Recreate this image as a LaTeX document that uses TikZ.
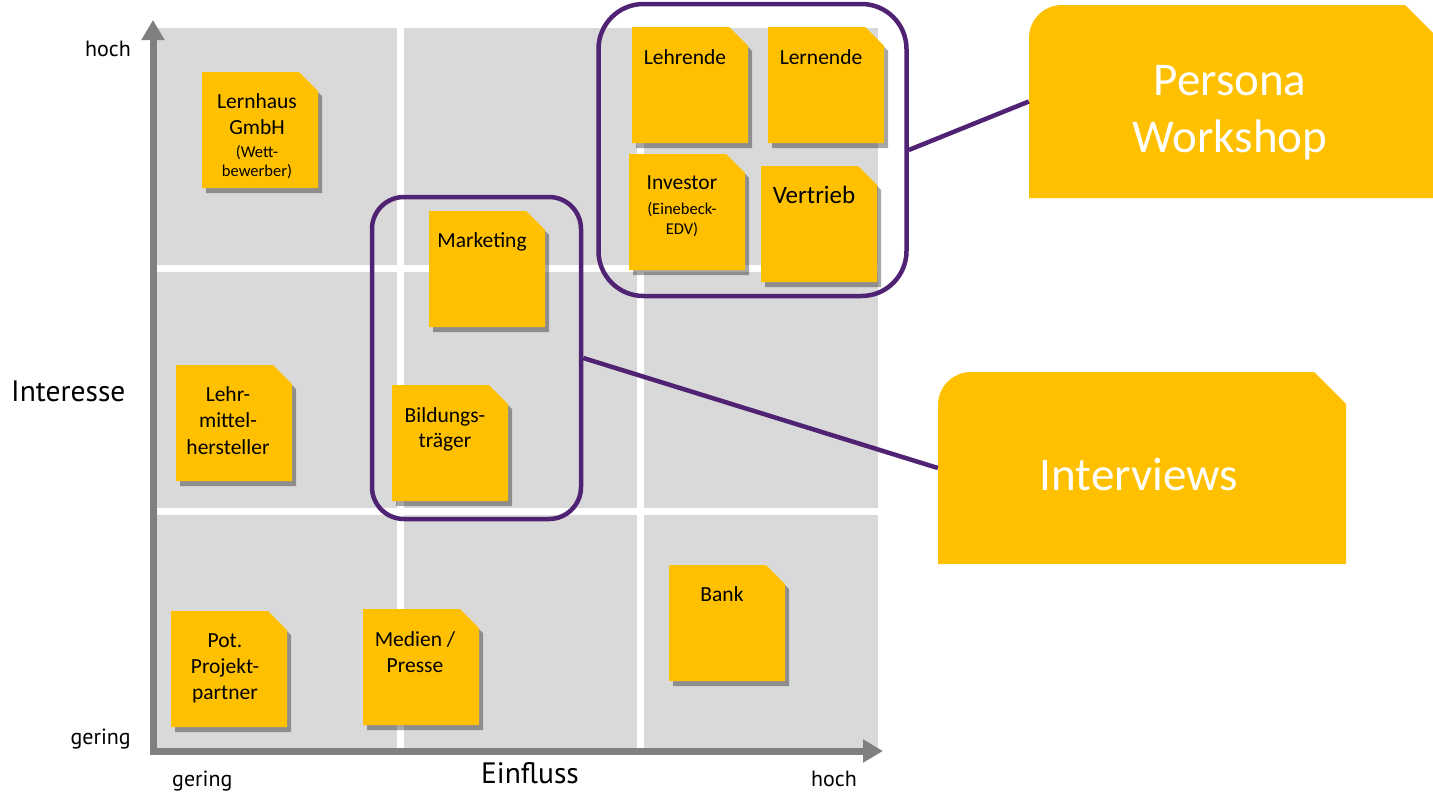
\documentclass[tikz,border=0pt]{standalone}
\usepackage{fontspec}
\setmainfont{Carlito}
\newfontfamily\axisfont{PT Sans}
\usetikzlibrary{arrows.meta,shadows}
\definecolor{yel}{HTML}{FFC000}
\definecolor{pur}{HTML}{4F2274}
\definecolor{cellgray}{HTML}{D9D9D9}
\definecolor{axisgray}{HTML}{808080}
\newcommand\stickynote[2]{%
  \fill[yel, drop shadow={shadow xshift=4pt, shadow yshift=-5pt, opacity=0.35, fill=black}]
    (#1,#2) -- ++(97,0) -- ++(19,19) -- ++(0,97) -- ++(-116,0) -- cycle;}
\begin{document}
\begin{tikzpicture}[x=1pt,y=-1pt,
  notetext/.style={font=\fontsize{21.5}{26}\selectfont, align=center, inner sep=0pt, anchor=north, text=black},
  subtext/.style={font=\fontsize{16.5}{19}\selectfont, align=center, inner sep=0pt, anchor=north, text=black},
  axislabel/.style={font=\axisfont\fontsize{22}{24}\selectfont, inner sep=0pt, text=black},
  axisarrow/.style={draw=axisgray, line width=7pt, -{Triangle[width=22pt,length=20pt]}},
  groupbox/.style={draw=pur, line width=4.5pt, fill=none, inner sep=0pt},
  link/.style={draw=pur, line width=4.5pt},
  callouttext/.style={font=\fontsize{47}{57}\selectfont, text=white, align=center, inner sep=0pt},
  calloutanchor/.style={draw=none, fill=none, inner sep=0pt}]
\path[use as bounding box] (0,0) rectangle (1433,793);
\fill[white] (0,0) rectangle (1433,793);
% grid cells
\foreach \xa/\xb in {157/397,404/637,644/878}
  \foreach \ya/\yb in {28/265,272/508,515/748}
    \fill[cellgray] (\xa,\ya) rectangle (\xb,\yb);
% axes
\coordinate (origin) at (153,754.5);
\coordinate (ytip) at (153,20);
\coordinate (xorigin) at (149.5,751);
\coordinate (xtip) at (883,751);
\draw[axisarrow] (origin) -- (ytip);
\draw[axisarrow] (xorigin) -- (xtip);
% sticky notes
\stickynote{202}{72}
\stickynote{632}{27}
\stickynote{768}{27}
\stickynote{629}{154}
\stickynote{761}{166}
\stickynote{429}{211}
\stickynote{392}{385}
\stickynote{176}{365}
\stickynote{171}{611}
\stickynote{363}{609}
\stickynote{669}{565}
\node[notetext] (lernhaus) at (257,93) {Lernhaus\\GmbH};
\node[subtext] (lernhausSub) at (257,145) {(Wett-\\bewerber)};
\node[notetext] (lehrende) at (685,49) {Lehrende};
\node[notetext] (lernende) at (821,49) {Lernende};
\node[notetext] (investor) at (682,176) {Investor};
\node[subtext, font=\fontsize{16.5}{20}\selectfont] (investorSub) at (682,202) {(Einebeck-\\EDV)};
\node[notetext, font=\fontsize{25}{28}\selectfont] (vertrieb) at (814,186) {Vertrieb};
\node[notetext] (marketing) at (482,232) {Marketing};
\node[notetext, font=\fontsize{21.5}{25}\selectfont] (bildung) at (445,407) {Bildungs-\\träger};
\node[notetext, font=\fontsize{21.5}{26.5}\selectfont] (lehrmittel) at (228,386) {Lehr-\\mittel-\\hersteller};
\node[notetext] (pot) at (225,633) {Pot.\\Projekt-\\partner};
\node[notetext] (medien) at (415,631) {Medien /\\Presse};
\node[notetext] (bank) at (722,586) {Bank};
% axis labels
\node[axislabel, anchor=base east] (hochY) at (131,56) {hoch};
\node[axislabel, anchor=base west, font=\axisfont\fontsize{29.5}{30}\selectfont] (interesse) at (11,401) {Interesse};
\node[axislabel, anchor=base east] (geringY) at (131,744) {gering};
\node[axislabel, anchor=base west] (geringX) at (172,786) {gering};
\node[axislabel, anchor=base, font=\axisfont\fontsize{29.5}{30}\selectfont] (einfluss) at (530,783) {Einfluss};
\node[axislabel, anchor=base east] (hochX) at (857,786) {hoch};
% group boxes
\node[groupbox, rounded corners=45pt, minimum width=308pt, minimum height=292pt] (grpTop) at (752.5,150) {};
\node[groupbox, rounded corners=32pt, minimum width=209pt, minimum height=322pt] (grpMid) at (476.5,358) {};
% callouts
\fill[yel] (1029,198) -- (1029,60) [rounded corners=33pt] -- (1029,5) -- (1120,5) [sharp corners] -- (1405,5) -- (1433,33) -- (1433,198) -- cycle;
\fill[yel] (938,564) -- (938,420) [rounded corners=33pt] -- (938,372) -- (1030,372) [sharp corners] -- (1314,372) -- (1346,404) -- (1346,564) -- cycle;
\node[calloutanchor, minimum width=404pt, minimum height=193pt] (persona) at (1231,101.5) {};
\node[calloutanchor, minimum width=408pt, minimum height=192pt] (interviews) at (1142,468) {};
\node[callouttext] (personaText) at (1230,113) {Persona\\Workshop};
\node[callouttext] (interviewsText) at (1139,474) {Interviews};
% connectors
\draw[link] (grpTop.east) -- (persona.west);
\draw[link] (grpMid.east) -- (interviews.west);
\end{tikzpicture}
\end{document}
